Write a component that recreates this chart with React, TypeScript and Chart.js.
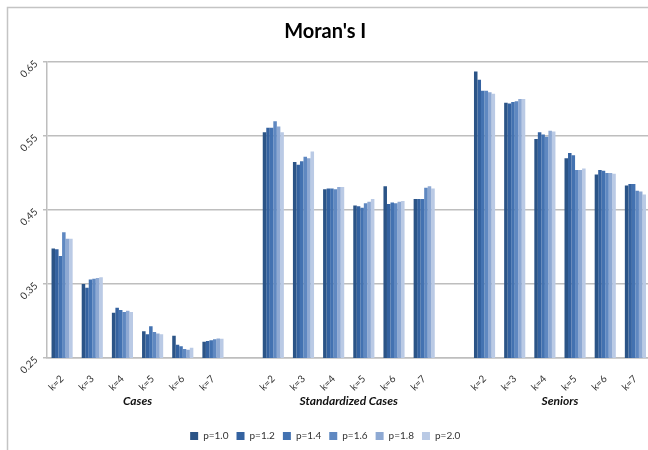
import React, { useEffect, useRef } from 'react';
import { Chart, registerables } from 'chart.js';

Chart.register(...registerables);

const kLabels = ['k=2', 'k=3', 'k=4', 'k=5', 'k=6', 'k=7'];
const groupNames = ['Cases', 'Standardized Cases', 'Seniors'];
const seriesNames = ['p=1.0', 'p=1.2', 'p=1.4', 'p=1.6', 'p=1.8', 'p=2.0'];
const yTicks = [0.25, 0.35, 0.45, 0.55, 0.65];

// values per series: Cases k=2..7, Standardized Cases k=2..7, Seniors k=2..7
const p10 = [0.398, 0.350, 0.311, 0.286, 0.280, 0.272, 0.555, 0.515, 0.478, 0.456, 0.482, 0.465, 0.637, 0.595, 0.546, 0.520, 0.498, 0.483];
const p12 = [0.397, 0.345, 0.318, 0.282, 0.268, 0.273, 0.561, 0.511, 0.479, 0.455, 0.458, 0.465, 0.626, 0.594, 0.555, 0.527, 0.504, 0.485];
const p14 = [0.388, 0.356, 0.315, 0.293, 0.266, 0.274, 0.561, 0.516, 0.479, 0.453, 0.460, 0.465, 0.611, 0.596, 0.552, 0.524, 0.503, 0.485];
const p16 = [0.420, 0.357, 0.312, 0.285, 0.262, 0.2755, 0.570, 0.522, 0.478, 0.459, 0.459, 0.480, 0.611, 0.597, 0.549, 0.504, 0.500, 0.476];
const p18 = [0.411, 0.358, 0.314, 0.283, 0.261, 0.2765, 0.563, 0.520, 0.481, 0.461, 0.461, 0.482, 0.609, 0.600, 0.557, 0.504, 0.500, 0.475];
const p20 = [0.411, 0.359, 0.312, 0.282, 0.264, 0.276, 0.555, 0.529, 0.481, 0.465, 0.462, 0.479, 0.607, 0.600, 0.556, 0.506, 0.499, 0.471];

const seriesValues = [p10, p12, p14, p16, p18, p20];
const seriesColors = ['#2B5487', '#3462A0', '#4372B1', '#5F88C1', '#8EA9D3', '#BACAE5'];

// category labels with an empty slot between groups
const categoryLabels: string[] = [];
groupNames.forEach((_, gi) => {
  if (gi > 0) categoryLabels.push('');
  kLabels.forEach((k) => categoryLabels.push(k));
});

function spread(values: number[]): (number | null)[] {
  const out: (number | null)[] = [];
  groupNames.forEach((_, gi) => {
    if (gi > 0) out.push(null);
    for (let i = 0; i < kLabels.length; i++) out.push(values[gi * kLabels.length + i]);
  });
  return out;
}

const framePlugin = {
  id: 'frame',
  beforeDraw(chart: any) {
    const ctx = chart.ctx;
    ctx.save();
    ctx.fillStyle = '#ffffff';
    ctx.fillRect(0, 0, chart.width, chart.height);
    ctx.restore();
  },
  afterDraw(chart: any) {
    const ctx = chart.ctx;
    ctx.save();
    ctx.strokeStyle = '#C4C4C4';
    ctx.lineWidth = 1.5;
    ctx.strokeRect(7.5, 7.5, 645, 470);
    ctx.restore();
  },
};

const groupLabelPlugin = {
  id: 'groupLabels',
  afterDraw(chart: any) {
    const x = chart.scales.x;
    const ctx = chart.ctx;
    ctx.save();
    ctx.font = 'italic bold 12px Lato';
    ctx.fillStyle = '#111111';
    ctx.textAlign = 'center';
    ctx.textBaseline = 'middle';
    groupNames.forEach((g, gi) => {
      const start = gi * (kLabels.length + 1);
      const mid = (x.getPixelForValue(start + 2) + x.getPixelForValue(start + 3)) / 2;
      ctx.fillText(g, mid, chart.chartArea.bottom + 43);
    });
    ctx.restore();
  },
};

export default function App() {
  const ref = useRef<HTMLCanvasElement | null>(null);

  useEffect(() => {
    if (!ref.current) return;
    const chart = new Chart(ref.current, {
      type: 'bar',
      data: {
        labels: categoryLabels,
        datasets: seriesNames.map((name, i) => ({
          label: name,
          data: spread(seriesValues[i]),
          backgroundColor: seriesColors[i],
          borderWidth: 0,
          categoryPercentage: 0.7,
          barPercentage: 1.0,
        })),
      },
      options: {
        responsive: false,
        animation: false,
        devicePixelRatio: 1,
        layout: { padding: { top: 0, left: 0, right: 9.5, bottom: -1 } },
        plugins: {
          title: {
            display: true,
            text: "Moran's I",
            color: '#000000',
            font: { family: 'Lato', size: 20, weight: 'bold' },
            padding: { top: 20, bottom: 18 },
          },
          legend: {
            position: 'bottom',
            labels: {
              boxWidth: 8,
              boxHeight: 8,
              padding: 8,
              color: '#333333',
              font: { family: 'Lato', size: 10 },
            },
          },
          tooltip: { enabled: false },
        },
        scales: {
          x: {
            offset: true,
            grid: { display: false, offset: true },
            border: { display: true, color: '#BEBEBE', width: 1.5 },
            ticks: {
              autoSkip: false,
              minRotation: 45,
              maxRotation: 45,
              padding: 7,
              color: '#333333',
              font: { family: 'Lato', size: 10 },
            },
            afterFit(scale: any) {
              scale.height = 65;
            },
          },
          y: {
            min: 0.25,
            max: 0.65,
            afterBuildTicks(scale: any) {
              scale.ticks = yTicks.map((v) => ({ value: v }));
            },
            grid: { color: '#BEBEBE', lineWidth: 1.5, tickLength: 4 },
            border: { display: true, color: '#BEBEBE', width: 1.5 },
            ticks: {
              minRotation: 45,
              maxRotation: 45,
              padding: 7,
              color: '#333333',
              font: { family: 'Lato', size: 10 },
              callback: (v: any) => Number(v).toFixed(2),
            },
            afterFit(scale: any) {
              scale.width = 47;
            },
          },
        },
      },
      plugins: [framePlugin, groupLabelPlugin],
    });
    return () => chart.destroy();
  }, []);

  return (
    <div style={{ position: 'fixed', left: 0, top: 0, width: 648, height: 450, overflow: 'hidden', background: '#fff' }}>
      <canvas ref={ref} width={660} height={450} style={{ width: 660, height: 450, display: 'block' }} />
    </div>
  );
}
